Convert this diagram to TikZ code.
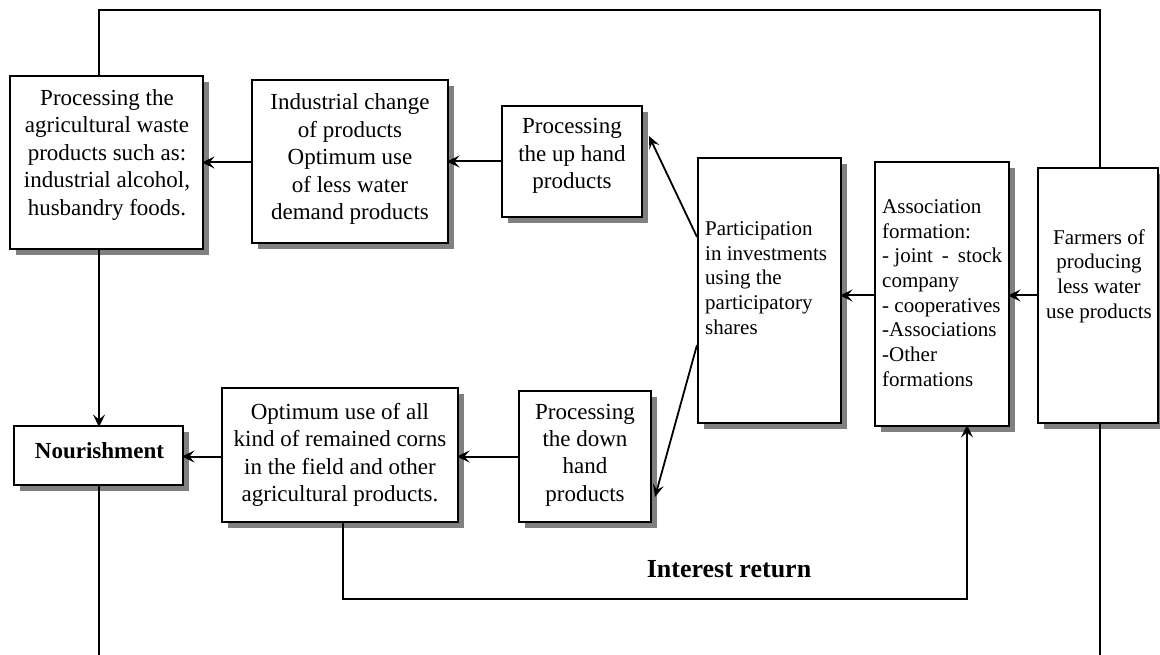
\documentclass[tikz,border=0pt]{standalone}
\usepackage{fontspec}
\setmainfont{Liberation Serif}
\usetikzlibrary{arrows.meta,shadows,calc}
\tikzset{
  box/.style={draw, line width=2pt, fill=white, inner sep=0pt,
    drop shadow={shadow xshift=6pt, shadow yshift=-6pt, fill=black!50, opacity=1}},
  txt/.style={font=\fontsize{23}{27.5}\selectfont, align=center, inner sep=0pt},
  rtxt/.style={font=\fontsize{21}{24.7}\selectfont, align=left, inner sep=0pt, anchor=west},
  conn/.style={line width=2pt},
  arr/.style={line width=2pt, shorten >=-2pt, -{Stealth[length=12.5pt,width=12pt,inset=5pt]}},
  darr/.style={line width=1.8pt, -{Stealth[length=12.5pt,width=11pt,inset=5pt]}},
}
\begin{document}
\begin{tikzpicture}[x=1pt,y=-1pt]
\useasboundingbox (0,0) rectangle (1160,655);
% boxes
\node[box, minimum width=193pt, minimum height=173pt] (A) at (106.5,162.5) {};
\node[box, minimum width=196pt, minimum height=163pt] (B) at (350,161.5) {};
\node[box, minimum width=140pt, minimum height=111pt] (C) at (572,161.5) {};
\node[box, minimum width=143pt, minimum height=265pt] (D) at (769.5,290.5) {};
\node[box, minimum width=134pt, minimum height=264pt] (E) at (942,294) {};
\node[box, minimum width=120pt, minimum height=255pt] (F) at (1098,295.5) {};
\node[box, minimum width=169pt, minimum height=59pt] (N) at (98.5,455.5) {};
\node[box, minimum width=236pt, minimum height=134pt] (G) at (340,455) {};
\node[box, minimum width=132pt, minimum height=131pt] (H) at (585,456.5) {};
% texts
\node[txt] (At) at (107,155) {Processing the\\agricultural waste\\products such as:\\industrial alcohol,\\husbandry foods.};
\node[txt] (Bt) at (350,159) {Industrial change\\of products\\Optimum use\\of less water\\demand products};
\node[txt] (Ct) at (572,156) {Processing\\the up hand\\products};
\node[rtxt] (Dt) at (705,278) {Participation\\in investments\\using the\\participatory\\shares};
\node[rtxt] (Et) at (882,293) {Association\\formation:\\\hbox to 120pt{-~joint\hfill-\hfill stock}\\company\\-~cooperatives\\-Associations\\-Other\\formations};
\node[txt, font=\fontsize{21}{24.7}\selectfont] (Ft) at (1099,276) {Farmers of\\producing\\less water\\use products};
\node[txt, font=\fontsize{23}{27.5}\bfseries] (Nt) at (99.5,451) {Nourishment};
\node[txt, font=\fontsize{23}{27.3}\selectfont] (Gt) at (340,455) {Optimum use of all\\kind of remained corns\\in the field and other\\agricultural products.};
\node[txt, font=\fontsize{23}{27.3}\selectfont] (Ht) at (585,455) {Processing\\the down\\hand\\products};
\node[txt, font=\fontsize{26}{29}\bfseries] (It) at (729,569) {Interest return};
% coordinates for loops
\coordinate (tl) at (99,10);
\coordinate (tr) at (1100,10);
\coordinate (bl) at (99,655);
\coordinate (br) at (1100,655);
\coordinate (r1) at (343,599);
\coordinate (r2) at (967,599);
% connectors
\draw[arr] (F.west) -- (F.west -| E.east);
\draw[arr] (E.west |- F.west) -- (F.west -| D.east);
\draw[darr] ([yshift=53.5pt]D.west) -- ([xshift=6pt,yshift=25.5pt]C.east);
\draw[darr] ([yshift=-54.5pt]D.west) -- ([xshift=3pt,yshift=-40.5pt]H.east);
\draw[arr] (C.west) -- (C.west -| B.east);
\draw[arr] ([yshift=-1pt]B.west) -- ([yshift=-1pt]B.west -| A.east);
\draw[arr] (H.west) -- (H.west -| G.east);
\draw[arr] (G.west |- H.west) -- (H.west -| N.east);
\draw[conn] (F.north -| tr) -- (tr) -- (tl) -- (tl |- A.north);
\draw[arr] (tl |- A.south) -- (tl |- N.north);
\draw[conn] (tl |- N.south) -- (bl);
\draw[conn] (br |- F.south) -- (br);
\draw[arr] (G.south -| r1) -- (r1) -- (r2) -- (r2 |- E.south);
\end{tikzpicture}
\end{document}
